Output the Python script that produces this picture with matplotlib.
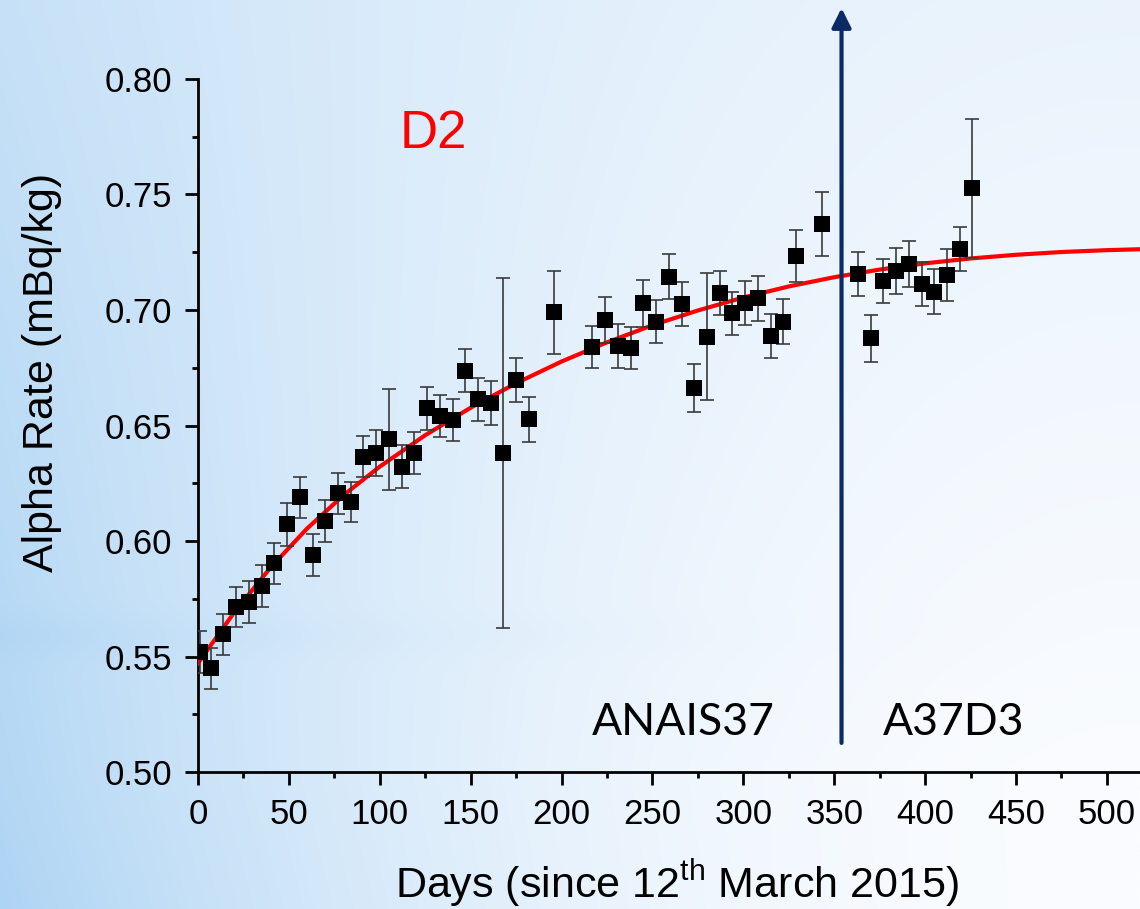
import numpy as np
import matplotlib
matplotlib.use("Agg")
import matplotlib.pyplot as plt
from matplotlib.ticker import MultipleLocator, FormatStrFormatter

plt.rcParams['font.family'] = ['Liberation Sans', 'DejaVu Sans']
plt.rcParams['mathtext.fontset'] = 'custom'
plt.rcParams['mathtext.rm'] = 'Liberation Sans'

# measured alpha rate per run (days since 12 March 2015)
days = [1, 7, 14, 21, 28, 35, 42, 49, 56, 63, 70, 77, 84, 91, 98, 105, 112, 119,
        126, 133, 140, 147, 154, 161, 168, 175, 182, 196, 217, 224, 231, 238, 245,
        252, 259, 266, 273, 280, 287, 294, 301, 308, 315, 322, 329, 343, 363, 370,
        377, 384, 391, 398, 405, 412, 419, 426]
rates = [0.552, 0.5449, 0.5596, 0.5713, 0.5737, 0.5805, 0.5903, 0.6072, 0.6189, 0.5939,
         0.6087, 0.6206, 0.6168, 0.6365, 0.638, 0.644, 0.6322, 0.638, 0.6574, 0.6541,
         0.6524, 0.6737, 0.6613, 0.6596, 0.638, 0.6697, 0.6527, 0.699, 0.684, 0.6957,
         0.6846, 0.6834, 0.7029, 0.6949, 0.7144, 0.7026, 0.6661, 0.6885, 0.7075, 0.6986,
         0.7032, 0.705, 0.6887, 0.6949, 0.7234, 0.7372, 0.7155, 0.6877, 0.7126, 0.717,
         0.7199, 0.7113, 0.7079, 0.7152, 0.7264, 0.7527]
errors = [0.009, 0.009, 0.0088, 0.0087, 0.009, 0.009, 0.009, 0.0092, 0.009, 0.009,
          0.009, 0.009, 0.0087, 0.009, 0.010, 0.022, 0.0093, 0.009, 0.0094, 0.009,
          0.009, 0.0094, 0.0093, 0.0095, 0.0758, 0.0094, 0.0098, 0.018, 0.0092, 0.010,
          0.0095, 0.0091, 0.0101, 0.0094, 0.0097, 0.0097, 0.0104, 0.0275, 0.0095, 0.0094,
          0.0095, 0.0097, 0.0094, 0.0097, 0.0112, 0.0137, 0.0095, 0.0101, 0.0095, 0.010,
          0.0101, 0.0094, 0.0097, 0.0112, 0.0097, 0.030]

# fitted curve
fit_days = [0, 20, 40, 60, 80, 100, 125, 150, 175, 200, 225, 250, 275, 300, 325,
            350, 375, 400, 425, 450, 475, 500, 518]
fit_rates = [0.5471, 0.5692, 0.5886, 0.6054, 0.6198, 0.6322, 0.6458, 0.6577, 0.6683,
             0.6777, 0.6860, 0.6934, 0.6998, 0.7054, 0.7102, 0.7142, 0.7175, 0.7202,
             0.7223, 0.7239, 0.7251, 0.7259, 0.7263]

change_day = 354

fig = plt.figure(figsize=(11.4, 9.09), dpi=100)

# slide-like background gradient
H, W = 300, 380
X = np.linspace(0, 1, W)[None, :]
Y = np.linspace(0, 1, H)[:, None]
t = 0.2 * np.clip(1 - Y / 0.85, 0, 1) + (0.45 + 0.5 * Y) * (1 - X) ** 2
t = t + 0.07 * np.exp(-((Y - 0.70) / 0.025) ** 2) * (1 - X) ** 1.5
t = np.clip(t, 0, 1)
white = np.array([250, 252, 255]) / 255.0
blue = np.array([170, 210, 243]) / 255.0
rgb = white - t[..., None] * (white - blue)
bg = fig.add_axes([0, 0, 1, 1], zorder=-10)
bg.imshow(rgb, aspect='auto', extent=[0, 1, 0, 1], interpolation='bilinear')
bg.axis('off')

ax = fig.add_axes([0.1737, 0.1507, 0.8263, 0.7624])
ax.patch.set_alpha(0)

ax.plot(fit_days, fit_rates, color='#ff0000', lw=3, zorder=3)
ax.errorbar(days, rates, yerr=errors, fmt='none', ecolor='#3a3a3a', elinewidth=1.2,
            capsize=5, capthick=1.2, zorder=4)
ax.plot(days, rates, 's', color='black', markersize=11.2, markeredgewidth=0, zorder=5)

ax.annotate('', xy=(change_day, 0.8307), xytext=(change_day, 0.5126),
            arrowprops=dict(arrowstyle='-|>,head_length=0.58,head_width=0.29',
                            color='#0b2a66', lw=3, mutation_scale=20,
                            shrinkA=0, shrinkB=0),
            annotation_clip=False, zorder=6)

ax.text(111, 0.7701, 'D2', color='#ff0000', fontsize=38, ha='left', va='baseline')
ax.text(216.6, 0.516, 'ANAIS37', fontsize=32, family=['Lato', 'DejaVu Sans'],
        ha='left', va='baseline')
ax.text(376.6, 0.516, 'A37D3', fontsize=32, family=['Lato', 'DejaVu Sans'],
        ha='left', va='baseline')

ax.set_xlim(0, 518.2)
ax.set_ylim(0.50, 0.80)
ax.xaxis.set_major_locator(MultipleLocator(50))
ax.xaxis.set_minor_locator(MultipleLocator(25))
ax.yaxis.set_major_locator(MultipleLocator(0.05))
ax.yaxis.set_minor_locator(MultipleLocator(0.025))
ax.yaxis.set_major_formatter(FormatStrFormatter('%.2f'))
ax.tick_params(which='major', direction='out', length=9.5, width=2, labelsize=25)
ax.tick_params(axis='x', which='major', pad=9)
ax.tick_params(axis='y', which='major', pad=9)
ax.tick_params(which='minor', direction='out', length=4.5, width=2)
for side in ['top', 'right']:
    ax.spines[side].set_visible(False)
for side in ['left', 'bottom']:
    ax.spines[side].set_linewidth(2)

fig.text(677 / 1140, 11 / 909, r'Days (since 12$^{\mathrm{th}}$ March 2015)',
         fontsize=31, ha='center', va='baseline')
fig.text(42 / 1140, (909 - 372) / 909, 'Alpha Rate (mBq/kg)', fontsize=31,
         rotation=90, ha='center', va='center')

fig.savefig('out.png', dpi=100)
